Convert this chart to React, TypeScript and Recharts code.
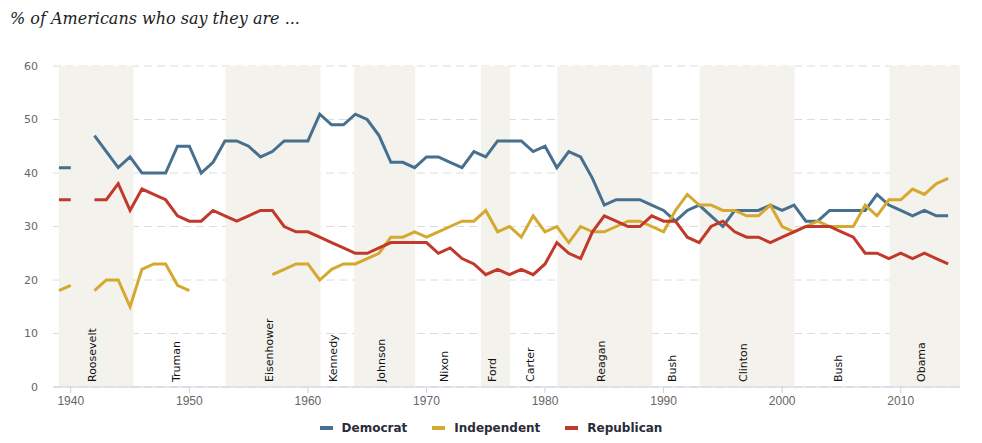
import {
  LineChart,
  Line,
  XAxis,
  YAxis,
  CartesianGrid,
  ReferenceArea,
  ReferenceLine,
} from "recharts";

const years = [
  1939, 1940, 1941, 1942, 1943, 1944, 1945, 1946, 1947, 1948, 1949, 1950, 1951, 1952, 1953, 1954, 1955, 1956, 1957,
  1958, 1959, 1960, 1961, 1962, 1963, 1964, 1965, 1966, 1967, 1968, 1969, 1970, 1971, 1972, 1973, 1974, 1975, 1976,
  1977, 1978, 1979, 1980, 1981, 1982, 1983, 1984, 1985, 1986, 1987, 1988, 1989, 1990, 1991, 1992, 1993, 1994, 1995,
  1996, 1997, 1998, 1999, 2000, 2001, 2002, 2003, 2004, 2005, 2006, 2007, 2008, 2009, 2010, 2011, 2012, 2013, 2014,
];

const democrat = [
  41, 41, null, 47, 44, 41, 43, 40, 40, 40, 45, 45, 40, 42, 46, 46, 45, 43, 44,
  46, 46, 46, 51, 49, 49, 51, 50, 47, 42, 42, 41, 43, 43, 42, 41, 44, 43, 46,
  46, 46, 44, 45, 41, 44, 43, 39, 34, 35, 35, 35, 34, 33, 31, 33, 34, 32, 30,
  33, 33, 33, 34, 33, 34, 31, 31, 33, 33, 33, 33, 36, 34, 33, 32, 33, 32, 32,
];

const independent = [
  18, 19, null, 18, 20, 20, 15, 22, 23, 23, 19, 18, null, null, null, null, null, null, 21,
  22, 23, 23, 20, 22, 23, 23, 24, 25, 28, 28, 29, 28, 29, 30, 31, 31, 33, 29,
  30, 28, 32, 29, 30, 27, 30, 29, 29, 30, 31, 31, 30, 29, 33, 36, 34, 34, 33,
  33, 32, 32, 34, 30, 29, 30, 31, 30, 30, 30, 34, 32, 35, 35, 37, 36, 38, 39,
];

const republican = [
  35, 35, null, 35, 35, 38, 33, 37, 36, 35, 32, 31, 31, 33, 32, 31, 32, 33, 33,
  30, 29, 29, 28, 27, 26, 25, 25, 26, 27, 27, 27, 27, 25, 26, 24, 23, 21, 22,
  21, 22, 21, 23, 27, 25, 24, 29, 32, 31, 30, 30, 32, 31, 31, 28, 27, 30, 31,
  29, 28, 28, 27, 28, 29, 30, 30, 30, 29, 28, 25, 25, 24, 25, 24, 25, 24, 23,
];

// presidencies (start/end as fractional years), shaded alternately
const presidents = ["Roosevelt", "Truman", "Eisenhower", "Kennedy", "Johnson", "Nixon", "Ford", "Carter", "Reagan", "Bush", "Clinton", "Bush", "Obama"];
const termStart = [1939, 1945.3, 1953.05, 1961.05, 1963.9, 1969.05, 1974.6, 1977.05, 1981.05, 1989.05, 1993.05, 2001.05, 2009.05];
const termEnd = [1945.3, 1953.05, 1961.05, 1963.9, 1969.05, 1974.6, 1977.05, 1981.05, 1989.05, 1993.05, 2001.05, 2009.05, 2015];

const yTicks = [0, 10, 20, 30, 40, 50, 60];
const xTicks = [1940, 1950, 1960, 1970, 1980, 1990, 2000, 2010];

const series = [
  { key: "Democrat", color: "#46708e" },
  { key: "Independent", color: "#d5a82f" },
  { key: "Republican", color: "#c0392b" },
];

const chartData = years.map((y, i) => ({
  year: y,
  Democrat: democrat[i],
  Independent: independent[i],
  Republican: republican[i],
}));

const PresidentLabel = ({ viewBox, name }: any) => {
  const x = viewBox.x;
  const y = viewBox.y + viewBox.height - 5;
  return (
    <text
      x={x}
      y={y}
      transform={`rotate(-90, ${x}, ${y})`}
      fontSize={11}
      fontFamily="DejaVu Sans, sans-serif"
      fill="#111"
      textAnchor="start"
    >
      {name}
    </text>
  );
};

export default function App() {
  return (
    <div style={{ position: "absolute", left: 0, top: 0, width: 982, height: 443, background: "#fff" }}>
      <div
        style={{
          position: "absolute",
          left: 10,
          top: 9,
          fontFamily: "DejaVu Serif, serif",
          fontStyle: "italic",
          fontSize: 16,
          color: "#222",
        }}
      >
        % of Americans who say they are ...
      </div>
      <LineChart
        width={982}
        height={443}
        data={chartData}
        margin={{ top: 66, right: 22, left: 0, bottom: 26 }}
      >
        {termStart.map((s, i) =>
          i % 2 === 0 ? (
            <ReferenceArea key={"a" + i} x1={s} x2={termEnd[i]} y1={0} y2={60} fill="#f4f2ed" fillOpacity={1} stroke="none" />
          ) : null
        )}
        <CartesianGrid vertical={false} stroke="#dcdcdc" strokeDasharray="8 5" />
        <XAxis
          dataKey="year"
          type="number"
          domain={[1938.5, 2015]}
          ticks={xTicks}
          allowDataOverflow
          stroke="#c8d2e2"
          tickSize={6}
          tick={{ fontSize: 12, fill: "#666", fontFamily: "Liberation Sans Narrow, sans-serif" }}
          tickMargin={3}
        />
        <YAxis
          width={53}
          domain={[0, 60]}
          ticks={yTicks}
          axisLine={false}
          tickLine={false}
          tickSize={0}
          tickMargin={15}
          tick={{ fontSize: 11, fill: "#666", fontFamily: "DejaVu Sans, sans-serif" }}
        />
        {presidents.map((p, i) => (
          <ReferenceLine
            key={"l" + i}
            x={(termStart[i] + termEnd[i]) / 2}
            stroke="none"
            label={<PresidentLabel name={p} />}
          />
        ))}
        {series.map((s) => (
          <Line
            key={s.key}
            type="linear"
            dataKey={s.key}
            stroke={s.color}
            strokeWidth={3}
            dot={false}
            activeDot={false}
            connectNulls={false}
            isAnimationActive={false}
          />
        ))}
      </LineChart>
      <div
        style={{
          position: "absolute",
          left: 0,
          top: 421,
          width: 982,
          display: "flex",
          justifyContent: "center",
          gap: 25,
          fontFamily: "DejaVu Sans, sans-serif",
          fontWeight: "bold",
          fontSize: 12,
          color: "#2b2b3a",
        }}
      >
        {series.map((s) => (
          <div key={s.key} style={{ display: "flex", alignItems: "center" }}>
            <span style={{ display: "inline-block", width: 13, height: 4, background: s.color, marginRight: 9 }} />
            {s.key}
          </div>
        ))}
      </div>
    </div>
  );
}
